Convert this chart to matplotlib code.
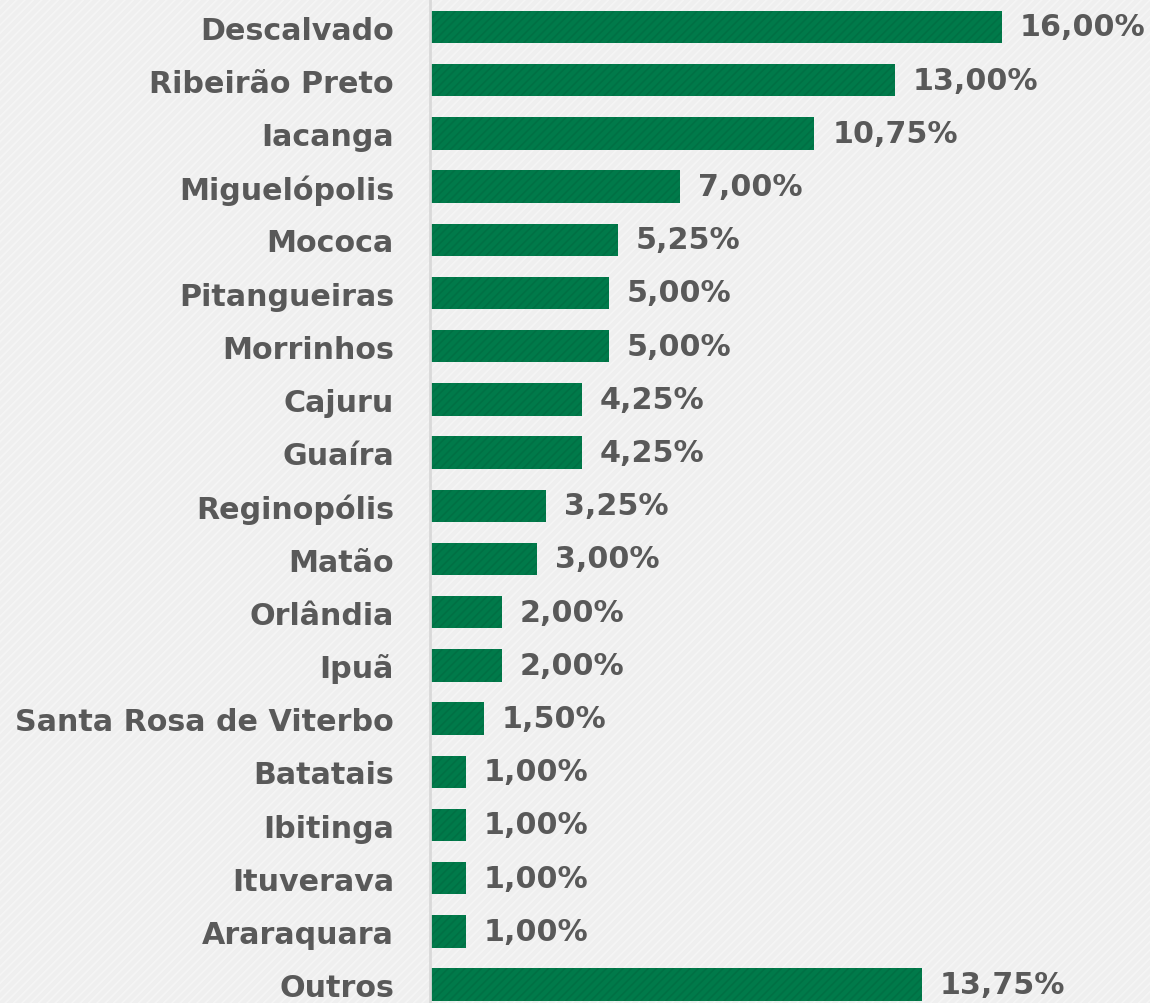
import matplotlib
matplotlib.use("Agg")
import matplotlib.pyplot as plt
from matplotlib.patches import Rectangle

categories = ["Descalvado", "Ribeirão Preto", "Iacanga", "Miguelópolis", "Mococa",
              "Pitangueiras", "Morrinhos", "Cajuru", "Guaíra", "Reginopólis", "Matão",
              "Orlândia", "Ipuã", "Santa Rosa de Viterbo", "Batatais", "Ibitinga",
              "Ituverava", "Araraquara", "Outros"]
values = [16.00, 13.00, 10.75, 7.00, 5.25, 5.00, 5.00, 4.25, 4.25, 3.25, 3.00,
          2.00, 2.00, 1.50, 1.00, 1.00, 1.00, 1.00, 13.75]
labels = ["16,00%", "13,00%", "10,75%", "7,00%", "5,25%", "5,00%", "5,00%", "4,25%",
          "4,25%", "3,25%", "3,00%", "2,00%", "2,00%", "1,50%", "1,00%", "1,00%",
          "1,00%", "1,00%", "13,75%"]

W, H = 1150, 1004
dpi = 100
plt.rcParams['hatch.linewidth'] = 1.2
plt.rcParams['font.family'] = ['DejaVu Sans']
fig = plt.figure(figsize=(W / dpi, H / dpi), dpi=dpi)
fig.patch.set_facecolor("#efefef")
# subtle diagonal background stripes
bg = Rectangle((0, 0), 1, 1, transform=fig.transFigure, facecolor="none",
               edgecolor="#f5f5f5", hatch="////", linewidth=0, zorder=-10)
fig.add_artist(bg)

ax = fig.add_axes([430 / W, 0, (W - 430) / W, 1])
ax.set_zorder(1)
ax.patch.set_alpha(0)
text_color = "#595959"
green = "#007a4a"

y = list(range(len(categories)))
ax.barh(y, values, height=0.61, color=green, edgecolor="none", zorder=2)
ax.barh(y, values, height=0.61, color="none", edgecolor="#007044", hatch="////",
        linewidth=0, zorder=3)

px_per_unit = (1002 - 430) / 16.0
ax.set_xlim(0, (W - 430) / px_per_unit)
row = 53.2
ax.set_ylim((H - 28) / row, -28 / row)

fs = 21.7
for yi, v, lab in zip(y, values, labels):
    ax.text(v + 18 / px_per_unit, yi, lab, va="center", ha="left", fontsize=fs,
            fontweight="bold", color=text_color, zorder=4)

ax.set_yticks(y)
ax.set_yticklabels(categories, fontsize=fs, fontweight="bold", color=text_color)
ax.tick_params(axis="y", length=0, pad=26)
ax.set_xticks([])
for s in ["top", "right", "bottom"]:
    ax.spines[s].set_visible(False)
ax.spines["left"].set_color("#d9d9d9")
ax.spines["left"].set_linewidth(2)
ax.spines["left"].set_zorder(5)

fig.savefig("out.png", dpi=dpi, facecolor=fig.get_facecolor())
